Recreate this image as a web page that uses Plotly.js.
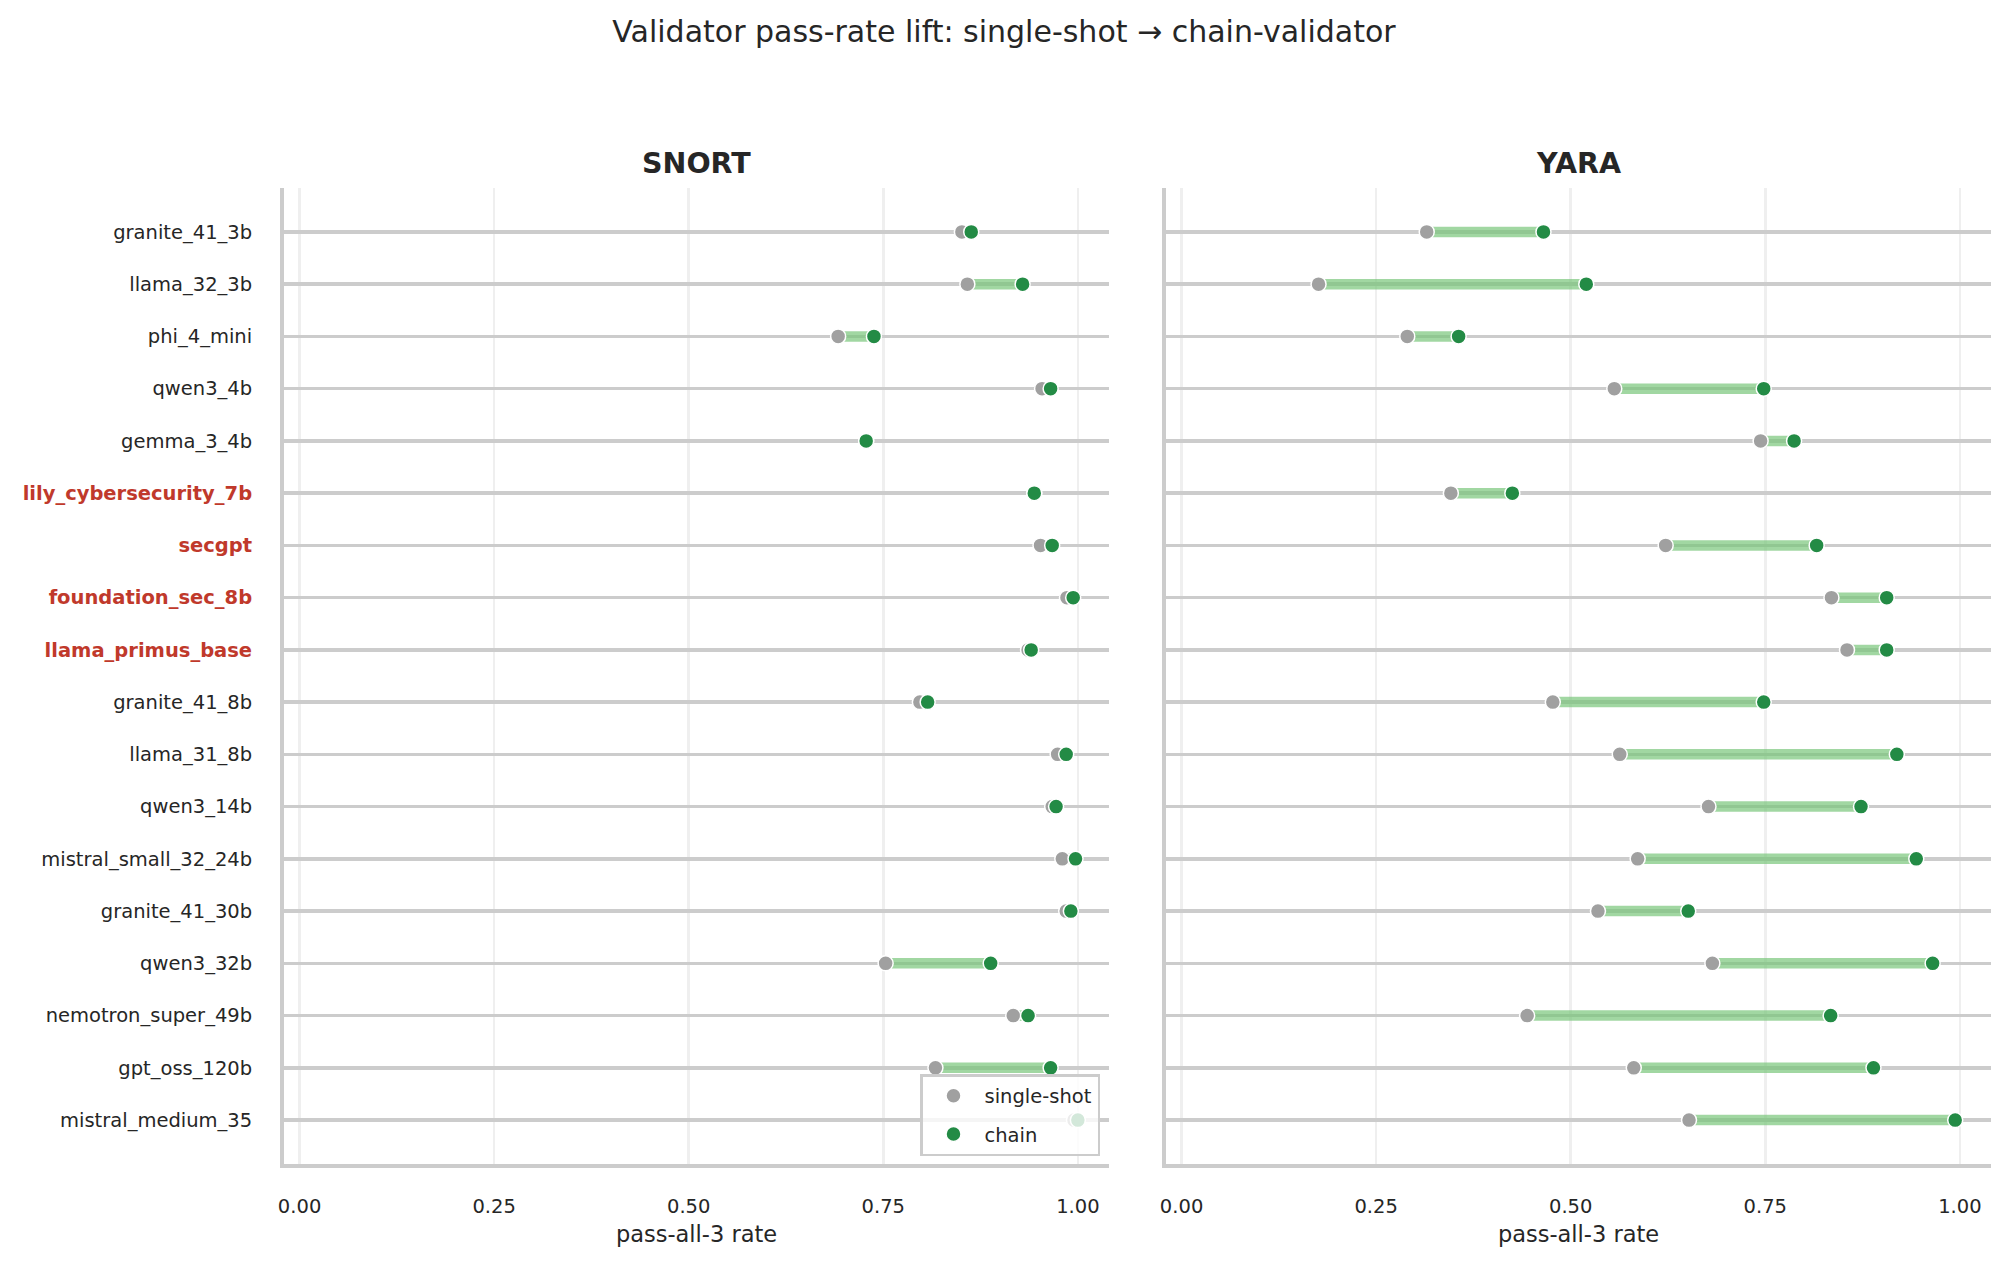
<!DOCTYPE html>
<html>
<head>
<meta charset="utf-8">
<script src="https://cdn.plot.ly/plotly-3.0.1.min.js"></script>
<style>html,body{margin:0;padding:0;background:#fff;}#chart{width:2008px;height:1266px;}</style>
</head>
<body>
<div id="chart"></div>
<script>
// ---- data ----
const models = ["granite_41_3b","llama_32_3b","phi_4_mini","qwen3_4b","gemma_3_4b",
  "lily_cybersecurity_7b","secgpt","foundation_sec_8b","llama_primus_base",
  "granite_41_8b","llama_31_8b","qwen3_14b","mistral_small_32_24b","granite_41_30b",
  "qwen3_32b","nemotron_super_49b","gpt_oss_120b","mistral_medium_35"];
const securityModels = ["lily_cybersecurity_7b","secgpt","foundation_sec_8b","llama_primus_base"];
const snortSingle = [0.851,0.858,0.692,0.954,0.728,0.944,0.952,0.986,0.936,0.797,0.974,0.967,0.980,0.985,0.753,0.917,0.817,0.995];
const snortChain  = [0.863,0.929,0.738,0.965,0.728,0.944,0.967,0.994,0.940,0.807,0.985,0.972,0.997,0.991,0.888,0.936,0.965,1.000];
const yaraSingle  = [0.315,0.176,0.290,0.556,0.744,0.346,0.622,0.835,0.855,0.477,0.563,0.677,0.586,0.535,0.682,0.444,0.581,0.652];
const yaraChain   = [0.465,0.520,0.356,0.748,0.787,0.425,0.816,0.906,0.906,0.748,0.919,0.873,0.944,0.651,0.965,0.834,0.889,0.994];
const xTicks = [0, 0.25, 0.5, 0.75, 1.0];
const xTickText = ["0.00","0.25","0.50","0.75","1.00"];
const panelTitles = ["SNORT","YARA"];
const xTitle = "pass-all-3 rate";
const figTitle = "Validator pass-rate lift: single-shot → chain-validator";

// ---- styles ----
const FONT = "DejaVu Sans";
const GREY = "#a0a0a0", GREEN = "#238b45", BAR = "rgba(116,196,118,0.68)";
const TXT = "#262626", RED = "#c0392b";

function connectors(s, c) {
  const x = [], y = [];
  models.forEach((m, i) => { x.push(s[i], c[i], null); y.push(m, m, null); });
  return {x, y};
}

const traces = [];
[[snortSingle, snortChain, "x", "y"], [yaraSingle, yaraChain, "x2", "y2"]].forEach(([s, c, xa, ya], k) => {
  const con = connectors(s, c);
  traces.push({type: "scatter", mode: "lines", x: con.x, y: con.y, xaxis: xa, yaxis: ya,
    line: {color: BAR, width: 10.5}, hoverinfo: "skip", showlegend: false});
  traces.push({type: "scatter", mode: "markers", x: s, y: models, xaxis: xa, yaxis: ya,
    name: "single-shot", legendgroup: "s", showlegend: k === 0,
    marker: {color: GREY, size: 15, line: {color: "#ffffff", width: 1.5}}});
  traces.push({type: "scatter", mode: "markers", x: c, y: models, xaxis: xa, yaxis: ya,
    name: "chain", legendgroup: "c", showlegend: k === 0,
    marker: {color: GREEN, size: 15, line: {color: "#ffffff", width: 1.5}}});
});

const tickText = models.map(m => securityModels.includes(m)
  ? `<span style="color:${RED};font-weight:bold">${m}</span>` : m);

const W = 2008, H = 1266;
function xAxis(domain, anchor) {
  return {domain: domain, anchor: anchor, range: [-0.02, 1.04], tickvals: xTicks, ticktext: xTickText,
    showgrid: true, gridcolor: "#efefef", gridwidth: 2.5, zeroline: false,
    showline: true, linecolor: "#cccccc", linewidth: 4,
    ticks: "outside", ticklen: 22, tickcolor: "rgba(0,0,0,0)",
    tickfont: {family: FONT, size: 19.5, color: TXT},
    title: {text: xTitle, font: {family: FONT, size: 22.5, color: TXT}, standoff: 10}};
}
function yAxis(anchor, labels) {
  return {domain: [1 - 1164/H, 1 - 188/H], anchor: anchor, type: "category",
    categoryarray: models, range: [17.84, -0.84],
    tickvals: models, ticktext: tickText, showticklabels: labels,
    showgrid: true, gridcolor: "#cccccc", gridwidth: 3.5, zeroline: false,
    showline: true, linecolor: "#cccccc", linewidth: 4,
    ticks: "outside", ticklen: 24, tickcolor: "rgba(0,0,0,0)",
    tickfont: {family: FONT, size: 19.5, color: TXT}};
}

const layout = {
  width: W, height: H, margin: {l: 0, r: 0, t: 0, b: 0},
  paper_bgcolor: "#ffffff", plot_bgcolor: "#ffffff",
  font: {family: FONT, color: TXT},
  title: {text: figTitle, x: 0.5, xanchor: "center", y: 1 - 31/H, yanchor: "middle",
    font: {family: FONT, size: 30, color: TXT}},
  xaxis: xAxis([284/W, 1109/W], "y"),
  yaxis: yAxis("x", true),
  xaxis2: xAxis([1166/W, 1991/W], "y2"),
  yaxis2: yAxis("x2", false),
  showlegend: true,
  legend: {x: 1100/W, xanchor: "right", y: 1 - 1156/H, yanchor: "bottom",
    bgcolor: "rgba(255,255,255,0.8)", bordercolor: "#cccccc", borderwidth: 2.5,
    font: {family: FONT, size: 19.5, color: TXT}, itemwidth: 52},
  annotations: panelTitles.map((t, i) => ({
    text: "<b>" + t + "</b>", xref: "paper", yref: "paper",
    x: i === 0 ? 696.5/W : 1578.5/W, y: 1 - 163/H, xanchor: "center", yanchor: "middle",
    showarrow: false, font: {family: FONT, size: 28.5, color: TXT}}))
};

Plotly.newPlot("chart", traces, layout, {displayModeBar: false, staticPlot: true});
</script>
</body>
</html>
